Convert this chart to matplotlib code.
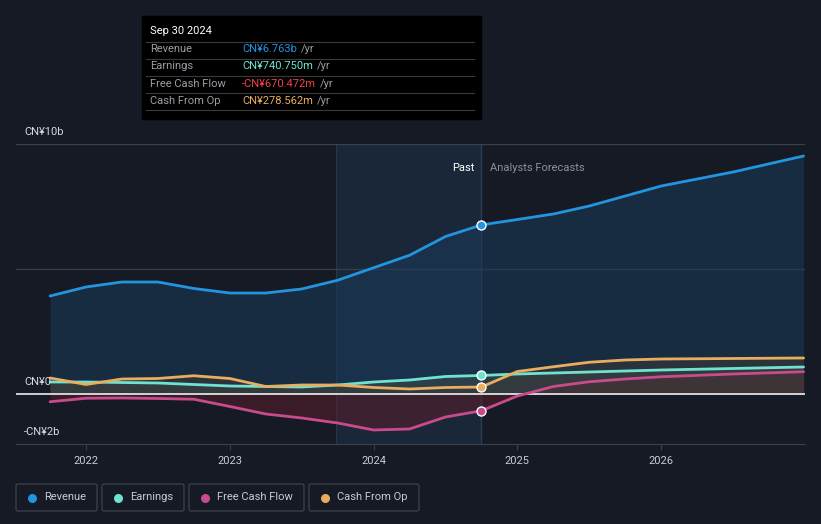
import numpy as np
import matplotlib.pyplot as plt
from matplotlib.patches import Rectangle, FancyBboxPatch

plt.rcParams['font.family'] = ['Roboto', 'DejaVu Sans']

# quarterly dates (decimal years), past and analyst forecasts
t_past = [2021.75, 2022.0, 2022.25, 2022.5, 2022.75, 2023.0, 2023.25, 2023.5,
          2023.75, 2024.0, 2024.25, 2024.5, 2024.75]
t_fc = [2024.75, 2025.0, 2025.25, 2025.5, 2025.75, 2026.0, 2026.5, 2026.99]

# values in CN¥ billions
rev_past = [3.92, 4.28, 4.48, 4.48, 4.22, 4.04, 4.04, 4.2, 4.55, 5.05, 5.55, 6.3, 6.763]
rev_fc = [6.763, 6.98, 7.2, 7.52, 7.92, 8.32, 8.88, 9.52]
earn_past = [0.48, 0.48, 0.46, 0.44, 0.38, 0.32, 0.3, 0.28, 0.36, 0.48, 0.56, 0.7, 0.741]
earn_fc = [0.741, 0.8, 0.84, 0.88, 0.92, 0.96, 1.02, 1.08]
fcf_past = [-0.31, -0.17, -0.16, -0.18, -0.21, -0.5, -0.8, -0.96, -1.16, -1.44, -1.4, -0.92, -0.670]
fcf_fc = [-0.670, -0.08, 0.3, 0.49, 0.6, 0.69, 0.8, 0.89]
cfo_past = [0.64, 0.38, 0.6, 0.62, 0.73, 0.62, 0.3, 0.36, 0.36, 0.26, 0.2, 0.26, 0.279]
cfo_fc = [0.279, 0.9, 1.09, 1.27, 1.36, 1.4, 1.42, 1.44]

years = [2022, 2023, 2024, 2025, 2026]
names = ['Revenue', 'Earnings', 'Free Cash Flow', 'Cash From Op']
colors = ['#2394df', '#6fe3cf', '#c84b8c', '#e8ad5f']
tip_vals = ['CN¥6.763b', 'CN¥740.750m', '-CN¥670.472m', 'CN¥278.562m']
tip_cols = ['#2394df', '#6fe3cf', '#f0404a', '#e8ad5f']

bg = '#151a24'
W, H = 821, 524
fig = plt.figure(figsize=(W / 100, H / 100), dpi=100, facecolor=bg)

def px(x0, y0, x1, y1):
    return [x0 / W, 1 - y1 / H, (x1 - x0) / W, (y1 - y0) / H]

ax = fig.add_axes(px(16, 144, 805, 444))
ax.set_facecolor(bg)
ax.set_xlim(2021.513, 2027.0)
ax.set_ylim(-2, 10)

ax.axvspan(2023.74, 2024.75, color='#1c3148', alpha=0.6, lw=0, zorder=0)
ax.axvline(2023.74, color='#26384c', lw=0.8, zorder=0)
ax.axvline(2024.75, color='#2a3c50', lw=1.0, zorder=0)

for g in [10, 5]:
    ax.axhline(g, color='#3a3f4a', lw=0.9, zorder=1)
ax.axhline(0, color='white', lw=1.1, zorder=4)

t_all = t_past + t_fc[1:]
series = [(rev_past, rev_fc), (earn_past, earn_fc), (fcf_past, fcf_fc), (cfo_past, cfo_fc)]
fills = ['#1a3b5a', '#3b4a48', '#5a1f2c', '#3a3a38']
for (p, f), c, fc in zip(series, colors, fills):
    v = p + f[1:]
    ax.fill_between(t_all, v, 0, color=fc, alpha=0.55, lw=0, zorder=2)
    ax.plot(t_past, p, color=c, lw=2.0, zorder=5, solid_capstyle='round')
    ax.plot(t_fc, f, color=c, lw=2.0, zorder=5, solid_capstyle='round')
    ax.scatter([t_past[-1]], [p[-1]], s=42, color=c, edgecolor='white', lw=1.0, zorder=6)

for s in ax.spines.values():
    s.set_visible(False)
ax.spines['bottom'].set_visible(True)
ax.spines['bottom'].set_color('#3a3f4a')
ax.set_yticks([])
ax.set_xticks(years)
ax.set_xticklabels([str(y) for y in years])
ax.tick_params(axis='x', colors='#3a3f4a', labelcolor='#c8ccd2', labelsize=8, length=4, pad=5)

ax.text(2024.70, 9.05, 'Past', color='white', fontsize=8, ha='right', va='center')
ax.text(2024.81, 9.05, 'Analysts Forecasts', color='#8a8f98', fontsize=8, ha='left', va='center')

# overlay in pixel coordinates for labels, tooltip and legend
ov = fig.add_axes([0, 0, 1, 1], facecolor='none')
ov.set_xlim(0, W)
ov.set_ylim(H, 0)
ov.axis('off')

for lab, y in [('CN¥10b', 132), ('CN¥0', 382), ('-CN¥2b', 432)]:
    ov.text(24, y, lab, color='#d6d9de', fontsize=8, va='center', ha='left')

ov.add_patch(Rectangle((142, 16), 339, 103, color='black', zorder=10))
ov.text(150, 31, 'Sep 30 2024', color='white', fontsize=8, va='center', zorder=11)
for y in [42, 59, 76, 93, 110]:
    ov.plot([146, 474], [y, y], color='#3a3a3a', lw=0.8, zorder=11)

renderer = fig.canvas.get_renderer()
for i, (n, v, c) in enumerate(zip(names, tip_vals, tip_cols)):
    y = 49 + i * 17.3
    ov.text(150, y, n, color='#9a9ea6', fontsize=8, va='center', zorder=11)
    tv = ov.text(242, y, v, color=c, fontsize=8, va='center', zorder=11)
    w = tv.get_window_extent(renderer).width
    ov.text(242 + w + 4, y, '/yr', color='#9a9ea6', fontsize=8, va='center', zorder=11)

boxes = [(16, 97), (102, 184), (189, 304), (309, 419)]
for (x0, x1), n, c in zip(boxes, names, colors):
    ov.add_patch(FancyBboxPatch((x0, 484), x1 - x0, 27, boxstyle='round,pad=0,rounding_size=2',
                                fc='none', ec='#3c414b', lw=0.9))
    ov.scatter([x0 + 16], [497.5], s=30, color=c)
    ov.text(x0 + 28, 497.5, n, color='#c8ccd2', fontsize=8, va='center')

fig.savefig('out.png', dpi=100, facecolor=bg)
